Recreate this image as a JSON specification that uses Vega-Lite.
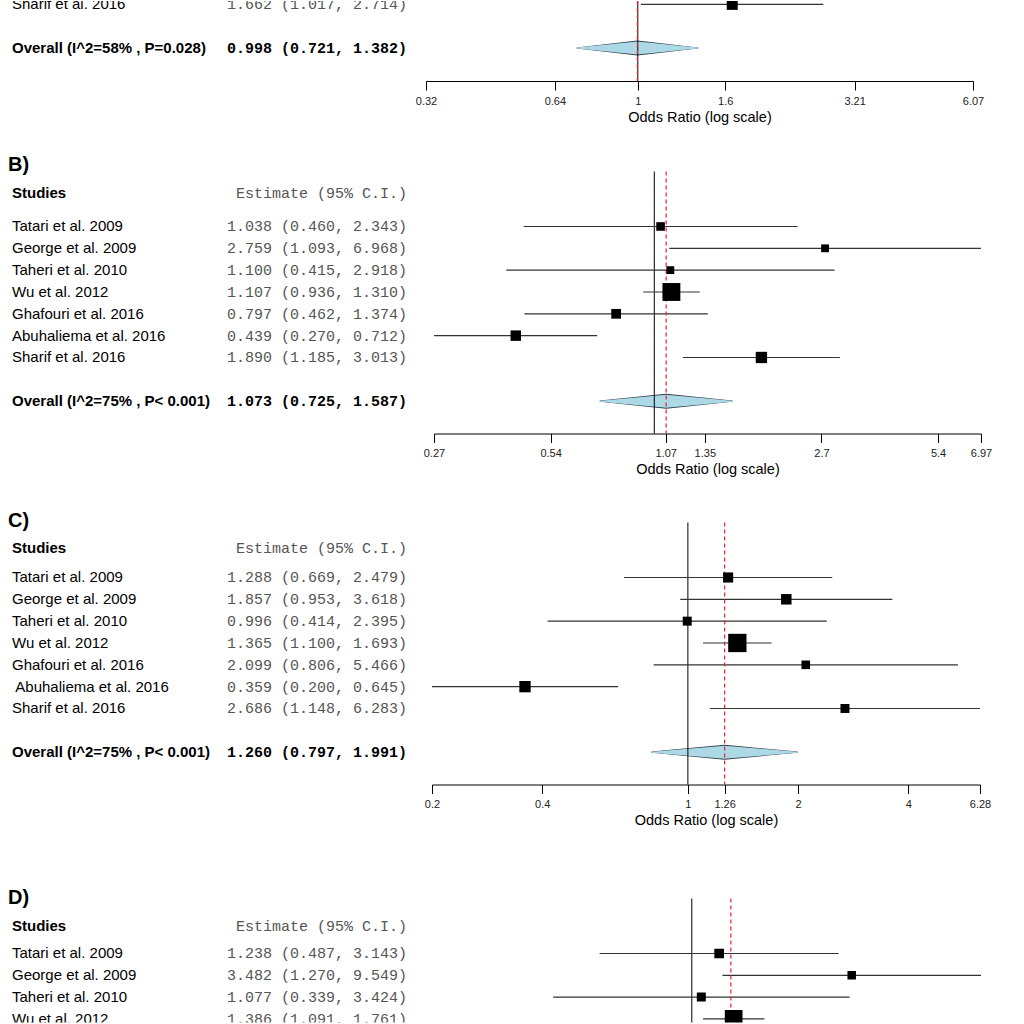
{
"$schema": "https://vega.github.io/schema/vega-lite/v6.json",
"padding": 0,
"background": "white",
"config": {
  "view": {"stroke": null},
  "axis": {"domainColor": "#000", "tickColor": "#000", "labelColor": "#222", "titleColor": "#000", "labelFont": "Liberation Sans", "titleFont": "Liberation Sans", "labelFontSize": 11, "titleFontSize": 14.5, "titleFontWeight": "normal", "tickSize": 9, "labelPadding": 5, "titlePadding": 4, "grid": false, "domainWidth": 1, "tickWidth": 1, "labelFlush": false, "labelOverlap": false},
  "title": {"anchor": "start", "font": "Liberation Sans", "fontSize": 20, "fontWeight": "bold", "color": "#000", "dx": 8}
},
"datasets": {
  "A": [
    {"study": "Sharif et al. 2016", "type": "study", "est": 1.662, "lo": 1.017, "hi": 2.714, "w": 14.2, "label": "1.662 (1.017, 2.714)"},
    {"study": "Overall (I^2=58% , P=0.028)", "type": "overall", "est": 0.998, "lo": 0.721, "hi": 1.382, "label": "0.998 (0.721, 1.382)"}
  ],
  "B": [
    {"study": "Studies", "type": "header", "label": "Estimate (95% C.I.)"},
    {"study": "Tatari et al. 2009", "type": "study", "est": 1.038, "lo": 0.460, "hi": 2.343, "w": 8.7, "label": "1.038 (0.460, 2.343)"},
    {"study": "George et al. 2009", "type": "study", "est": 2.759, "lo": 1.093, "hi": 6.968, "w": 7.2, "label": "2.759 (1.093, 6.968)"},
    {"study": "Taheri et al. 2010", "type": "study", "est": 1.100, "lo": 0.415, "hi": 2.918, "w": 7.2, "label": "1.100 (0.415, 2.918)"},
    {"study": "Wu et al. 2012", "type": "study", "est": 1.107, "lo": 0.936, "hi": 1.310, "w": 37.6, "label": "1.107 (0.936, 1.310)"},
    {"study": "Ghafouri et al. 2016", "type": "study", "est": 0.797, "lo": 0.462, "hi": 1.374, "w": 11.1, "label": "0.797 (0.462, 1.374)"},
    {"study": "Abuhaliema et al. 2016", "type": "study", "est": 0.439, "lo": 0.270, "hi": 0.712, "w": 12.9, "label": "0.439 (0.270, 0.712)"},
    {"study": "Sharif et al. 2016", "type": "study", "est": 1.890, "lo": 1.185, "hi": 3.013, "w": 15.1, "label": "1.890 (1.185, 3.013)"},
    {"study": "Overall (I^2=75% , P< 0.001)", "type": "overall", "est": 1.073, "lo": 0.725, "hi": 1.587, "label": "1.073 (0.725, 1.587)"}
  ],
  "C": [
    {"study": "Studies", "type": "header", "label": "Estimate (95% C.I.)"},
    {"study": "Tatari et al. 2009", "type": "study", "est": 1.288, "lo": 0.669, "hi": 2.479, "w": 12.0, "label": "1.288 (0.669, 2.479)"},
    {"study": "George et al. 2009", "type": "study", "est": 1.857, "lo": 0.953, "hi": 3.618, "w": 12.9, "label": "1.857 (0.953, 3.618)"},
    {"study": "Taheri et al. 2010", "type": "study", "est": 0.996, "lo": 0.414, "hi": 2.395, "w": 9.5, "label": "0.996 (0.414, 2.395)"},
    {"study": "Wu et al. 2012", "type": "study", "est": 1.365, "lo": 1.100, "hi": 1.693, "w": 39.4, "label": "1.365 (1.100, 1.693)"},
    {"study": "Ghafouri et al. 2016", "type": "study", "est": 2.099, "lo": 0.806, "hi": 5.466, "w": 8.7, "label": "2.099 (0.806, 5.466)"},
    {"study": "\u200b Abuhaliema et al. 2016", "type": "study", "est": 0.359, "lo": 0.200, "hi": 0.645, "w": 15.1, "label": "0.359 (0.200, 0.645)"},
    {"study": "Sharif et al. 2016", "type": "study", "est": 2.686, "lo": 1.148, "hi": 6.283, "w": 9.5, "label": "2.686 (1.148, 6.283)"},
    {"study": "Overall (I^2=75% , P< 0.001)", "type": "overall", "est": 1.260, "lo": 0.797, "hi": 1.991, "label": "1.260 (0.797, 1.991)"}
  ],
  "D": [
    {"study": "Studies", "type": "header", "label": "Estimate (95% C.I.)"},
    {"study": "Tatari et al. 2009", "type": "study", "est": 1.238, "lo": 0.487, "hi": 3.143, "w": 11.1, "label": "1.238 (0.487, 3.143)"},
    {"study": "George et al. 2009", "type": "study", "est": 3.482, "lo": 1.270, "hi": 9.549, "w": 8.5, "label": "3.482 (1.270, 9.549)"},
    {"study": "Taheri et al. 2010", "type": "study", "est": 1.077, "lo": 0.339, "hi": 3.424, "w": 9.5, "label": "1.077 (0.339, 3.424)"},
    {"study": "Wu et al. 2012", "type": "study", "est": 1.386, "lo": 1.091, "hi": 1.761, "w": 36.8, "label": "1.386 (1.091, 1.761)"},
    {"study": "Overall", "type": "overall", "est": 1.356}
  ]
},
"spacing": 60.5,
"vconcat": [
{
"spacing": 34.5,
"vconcat": [
{
"spacing": 30.5,
"vconcat": [
{
  "spacing": 19, "bounds": "flush",
  "hconcat": [
    {
      "width": 407, "height": 80,
      "data": {"name": "A"},
      "encoding": {"y": {"field": "study", "type": "nominal", "scale": {"type": "point", "domain": ["Sharif et al. 2016", "g1", "Overall (I^2=58% , P=0.028)"], "padding": 0.835, "align": 0.093}, "axis": null}},
      "layer": [
        {"transform": [{"filter": "datum.type == 'study'"}], "mark": {"type": "text", "clip": true, "align": "left", "baseline": "middle", "dx": 12, "font": "Liberation Sans", "fontSize": 15, "color": "#000"}, "encoding": {"x": {"datum": 0, "type": "quantitative", "scale": {"domain": [0, 1]}, "axis": null}, "text": {"field": "study"}}},
        {"transform": [{"filter": "datum.type == 'study'"}], "mark": {"type": "text", "clip": true, "align": "right", "baseline": "middle", "font": "Liberation Mono", "fontSize": 15, "color": "#555"}, "encoding": {"x": {"datum": 1, "type": "quantitative", "scale": {"domain": [0, 1]}, "axis": null}, "text": {"field": "label"}}},
        {"transform": [{"filter": "datum.type == 'overall'"}], "mark": {"type": "text", "clip": true, "align": "left", "baseline": "middle", "dx": 12, "font": "Liberation Sans", "fontSize": 15, "fontWeight": "bold", "color": "#000"}, "encoding": {"x": {"datum": 0, "type": "quantitative", "scale": {"domain": [0, 1]}, "axis": null}, "text": {"field": "study"}}},
        {"transform": [{"filter": "datum.type == 'overall'"}], "mark": {"type": "text", "clip": true, "align": "right", "baseline": "middle", "font": "Liberation Mono", "fontSize": 15, "fontWeight": "bold", "color": "#000"}, "encoding": {"x": {"datum": 1, "type": "quantitative", "scale": {"domain": [0, 1]}, "axis": null}, "text": {"field": "label"}}}
      ]
    },
    {
      "width": 547, "height": 80,
      "data": {"name": "A"},
      "layer": [
        {"transform": [{"filter": "datum.type == 'overall'"}, {"fold": ["lo", "est", "hi"], "as": ["key", "value"]}, {"window": [{"op": "row_number", "as": "k"}], "sort": [{"field": "value"}]}],
         "mark": {"type": "trail", "clip": true, "color": "#2b3a4a"},
         "encoding": {"x": {"field": "value", "type": "quantitative", "scale": {"type": "log", "domain": [0.32, 6.07], "nice": false, "zero": false}, "axis": {"values": [0.32, 0.64, 1, 1.6, 3.21, 6.07], "format": "~g", "title": "Odds Ratio (log scale)"}},
           "y": {"field": "study", "type": "nominal", "scale": {"type": "point", "domain": ["Sharif et al. 2016", "g1", "Overall (I^2=58% , P=0.028)"], "padding": 0.835, "align": 0.093}, "axis": null},
           "order": {"field": "k", "type": "quantitative"},
           "size": {"field": "k", "type": "quantitative", "scale": {"type": "threshold", "domain": [1.5, 2.5], "range": [1.2, 15, 1.2]}, "legend": null}}},
        {"transform": [{"filter": "datum.type == 'overall'"}, {"fold": ["lo", "est", "hi"], "as": ["key", "value"]}, {"window": [{"op": "row_number", "as": "k"}], "sort": [{"field": "value"}]}],
         "mark": {"type": "trail", "clip": true, "color": "#ADD8E6"},
         "encoding": {"x": {"field": "value", "type": "quantitative", "scale": {"type": "log", "domain": [0.32, 6.07], "nice": false, "zero": false}, "axis": {"values": [0.32, 0.64, 1, 1.6, 3.21, 6.07], "format": "~g", "title": "Odds Ratio (log scale)"}},
           "y": {"field": "study", "type": "nominal", "scale": {"type": "point", "domain": ["Sharif et al. 2016", "g1", "Overall (I^2=58% , P=0.028)"], "padding": 0.835, "align": 0.093}, "axis": null},
           "order": {"field": "k", "type": "quantitative"},
           "size": {"field": "k", "type": "quantitative", "scale": {"type": "threshold", "domain": [1.5, 2.5], "range": [0, 13, 0]}, "legend": null}}},
        {"transform": [{"filter": "datum.type == 'overall'"}],
         "mark": {"type": "rule", "color": "#000", "strokeWidth": 1},
         "encoding": {"x": {"datum": 1, "type": "quantitative", "scale": {"type": "log", "domain": [0.32, 6.07], "nice": false, "zero": false}, "axis": {"values": [0.32, 0.64, 1, 1.6, 3.21, 6.07], "format": "~g", "title": "Odds Ratio (log scale)"}}}},
        {"transform": [{"filter": "datum.type == 'study'"}],
         "mark": {"type": "rule", "clip": true, "color": "#333", "strokeWidth": 1.2},
         "encoding": {"x": {"field": "lo", "type": "quantitative", "scale": {"type": "log", "domain": [0.32, 6.07], "nice": false, "zero": false}, "axis": {"values": [0.32, 0.64, 1, 1.6, 3.21, 6.07], "format": "~g", "title": "Odds Ratio (log scale)"}}, "x2": {"field": "hi"},
           "y": {"field": "study", "type": "nominal", "scale": {"type": "point", "domain": ["Sharif et al. 2016", "g1", "Overall (I^2=58% , P=0.028)"], "padding": 0.835, "align": 0.093}, "axis": null}}},
        {"transform": [{"filter": "datum.type == 'overall'"}],
         "mark": {"type": "rule", "color": "#e0262c", "strokeWidth": 1.2, "strokeDash": [4, 3]},
         "encoding": {"x": {"field": "est", "type": "quantitative", "scale": {"type": "log", "domain": [0.32, 6.07], "nice": false, "zero": false}, "axis": {"values": [0.32, 0.64, 1, 1.6, 3.21, 6.07], "format": "~g", "title": "Odds Ratio (log scale)"}}}},
        {"transform": [{"filter": "datum.type == 'study'"}],
         "mark": {"type": "square", "clip": true, "filled": true, "color": "#000", "opacity": 1},
         "encoding": {"x": {"field": "est", "type": "quantitative", "scale": {"type": "log", "domain": [0.32, 6.07], "nice": false, "zero": false}, "axis": {"values": [0.32, 0.64, 1, 1.6, 3.21, 6.07], "format": "~g", "title": "Odds Ratio (log scale)"}},
           "y": {"field": "study", "type": "nominal", "scale": {"type": "point", "domain": ["Sharif et al. 2016", "g1", "Overall (I^2=58% , P=0.028)"], "padding": 0.835, "align": 0.093}, "axis": null},
           "size": {"field": "w", "type": "quantitative", "scale": {"domain": [0, 100], "range": [0, 850]}, "legend": null}}}
      ]
    }
  ]
},
{
  "title": {"text": "B)", "offset": -4},
  "spacing": 27, "bounds": "flush",
  "hconcat": [
    {
      "width": 407, "height": 262,
      "data": {"name": "B"},
      "encoding": {"y": {"field": "study", "type": "nominal", "scale": {"type": "point", "domain": ["Studies", "g0", "Tatari et al. 2009", "George et al. 2009", "Taheri et al. 2010", "Wu et al. 2012", "Ghafouri et al. 2016", "Abuhaliema et al. 2016", "Sharif et al. 2016", "g1", "Overall (I^2=75% , P< 0.001)"], "padding": 1.009, "align": 0.259}, "axis": null}},
      "layer": [
        {"transform": [{"filter": "datum.type == 'header'"}], "mark": {"type": "text", "align": "left", "baseline": "middle", "dx": 12, "dy": 10.3, "font": "Liberation Sans", "fontSize": 15, "fontWeight": "bold", "color": "#000"}, "encoding": {"x": {"datum": 0, "type": "quantitative", "scale": {"domain": [0, 1]}, "axis": null}, "text": {"field": "study"}}},
        {"transform": [{"filter": "datum.type == 'header'"}], "mark": {"type": "text", "align": "right", "baseline": "middle", "dy": 10.3, "font": "Liberation Mono", "fontSize": 15, "color": "#555"}, "encoding": {"x": {"datum": 1, "type": "quantitative", "scale": {"domain": [0, 1]}, "axis": null}, "text": {"field": "label"}}},
        {"transform": [{"filter": "datum.type == 'study'"}], "mark": {"type": "text", "align": "left", "baseline": "middle", "dx": 12, "font": "Liberation Sans", "fontSize": 15, "color": "#000"}, "encoding": {"x": {"datum": 0, "type": "quantitative", "scale": {"domain": [0, 1]}, "axis": null}, "text": {"field": "study"}}},
        {"transform": [{"filter": "datum.type == 'study'"}], "mark": {"type": "text", "align": "right", "baseline": "middle", "font": "Liberation Mono", "fontSize": 15, "color": "#555"}, "encoding": {"x": {"datum": 1, "type": "quantitative", "scale": {"domain": [0, 1]}, "axis": null}, "text": {"field": "label"}}},
        {"transform": [{"filter": "datum.type == 'overall'"}], "mark": {"type": "text", "align": "left", "baseline": "middle", "dx": 12, "font": "Liberation Sans", "fontSize": 15, "fontWeight": "bold", "color": "#000"}, "encoding": {"x": {"datum": 0, "type": "quantitative", "scale": {"domain": [0, 1]}, "axis": null}, "text": {"field": "study"}}},
        {"transform": [{"filter": "datum.type == 'overall'"}], "mark": {"type": "text", "align": "right", "baseline": "middle", "font": "Liberation Mono", "fontSize": 15, "fontWeight": "bold", "color": "#000"}, "encoding": {"x": {"datum": 1, "type": "quantitative", "scale": {"domain": [0, 1]}, "axis": null}, "text": {"field": "label"}}}
      ]
    },
    {
      "width": 547, "height": 262,
      "data": {"name": "B"},
      "layer": [
        {"transform": [{"filter": "datum.type == 'overall'"}, {"fold": ["lo", "est", "hi"], "as": ["key", "value"]}, {"window": [{"op": "row_number", "as": "k"}], "sort": [{"field": "value"}]}],
         "mark": {"type": "trail", "color": "#2b3a4a"},
         "encoding": {"x": {"field": "value", "type": "quantitative", "scale": {"type": "log", "domain": [0.27, 6.97], "nice": false, "zero": false}, "axis": {"values": [0.27, 0.54, 1.07, 1.35, 2.7, 5.4, 6.97], "format": "~g", "title": "Odds Ratio (log scale)"}},
           "y": {"field": "study", "type": "nominal", "scale": {"type": "point", "domain": ["Studies", "g0", "Tatari et al. 2009", "George et al. 2009", "Taheri et al. 2010", "Wu et al. 2012", "Ghafouri et al. 2016", "Abuhaliema et al. 2016", "Sharif et al. 2016", "g1", "Overall (I^2=75% , P< 0.001)"], "padding": 1.009, "align": 0.259}, "axis": null},
           "order": {"field": "k", "type": "quantitative"},
           "size": {"field": "k", "type": "quantitative", "scale": {"type": "threshold", "domain": [1.5, 2.5], "range": [1.2, 15, 1.2]}, "legend": null}}},
        {"transform": [{"filter": "datum.type == 'overall'"}, {"fold": ["lo", "est", "hi"], "as": ["key", "value"]}, {"window": [{"op": "row_number", "as": "k"}], "sort": [{"field": "value"}]}],
         "mark": {"type": "trail", "color": "#ADD8E6"},
         "encoding": {"x": {"field": "value", "type": "quantitative", "scale": {"type": "log", "domain": [0.27, 6.97], "nice": false, "zero": false}, "axis": {"values": [0.27, 0.54, 1.07, 1.35, 2.7, 5.4, 6.97], "format": "~g", "title": "Odds Ratio (log scale)"}},
           "y": {"field": "study", "type": "nominal", "scale": {"type": "point", "domain": ["Studies", "g0", "Tatari et al. 2009", "George et al. 2009", "Taheri et al. 2010", "Wu et al. 2012", "Ghafouri et al. 2016", "Abuhaliema et al. 2016", "Sharif et al. 2016", "g1", "Overall (I^2=75% , P< 0.001)"], "padding": 1.009, "align": 0.259}, "axis": null},
           "order": {"field": "k", "type": "quantitative"},
           "size": {"field": "k", "type": "quantitative", "scale": {"type": "threshold", "domain": [1.5, 2.5], "range": [0, 13, 0]}, "legend": null}}},
        {"transform": [{"filter": "datum.type == 'overall'"}],
         "mark": {"type": "rule", "color": "#000", "strokeWidth": 1},
         "encoding": {"x": {"datum": 1, "type": "quantitative", "scale": {"type": "log", "domain": [0.27, 6.97], "nice": false, "zero": false}, "axis": {"values": [0.27, 0.54, 1.07, 1.35, 2.7, 5.4, 6.97], "format": "~g", "title": "Odds Ratio (log scale)"}}}},
        {"transform": [{"filter": "datum.type == 'study'"}],
         "mark": {"type": "rule", "color": "#333", "strokeWidth": 1.2},
         "encoding": {"x": {"field": "lo", "type": "quantitative", "scale": {"type": "log", "domain": [0.27, 6.97], "nice": false, "zero": false}, "axis": {"values": [0.27, 0.54, 1.07, 1.35, 2.7, 5.4, 6.97], "format": "~g", "title": "Odds Ratio (log scale)"}}, "x2": {"field": "hi"},
           "y": {"field": "study", "type": "nominal", "scale": {"type": "point", "domain": ["Studies", "g0", "Tatari et al. 2009", "George et al. 2009", "Taheri et al. 2010", "Wu et al. 2012", "Ghafouri et al. 2016", "Abuhaliema et al. 2016", "Sharif et al. 2016", "g1", "Overall (I^2=75% , P< 0.001)"], "padding": 1.009, "align": 0.259}, "axis": null}}},
        {"transform": [{"filter": "datum.type == 'overall'"}],
         "mark": {"type": "rule", "color": "#e0262c", "strokeWidth": 1.2, "strokeDash": [4, 3]},
         "encoding": {"x": {"field": "est", "type": "quantitative", "scale": {"type": "log", "domain": [0.27, 6.97], "nice": false, "zero": false}, "axis": {"values": [0.27, 0.54, 1.07, 1.35, 2.7, 5.4, 6.97], "format": "~g", "title": "Odds Ratio (log scale)"}}}},
        {"transform": [{"filter": "datum.type == 'study'"}],
         "mark": {"type": "square", "filled": true, "color": "#000", "opacity": 1},
         "encoding": {"x": {"field": "est", "type": "quantitative", "scale": {"type": "log", "domain": [0.27, 6.97], "nice": false, "zero": false}, "axis": {"values": [0.27, 0.54, 1.07, 1.35, 2.7, 5.4, 6.97], "format": "~g", "title": "Odds Ratio (log scale)"}},
           "y": {"field": "study", "type": "nominal", "scale": {"type": "point", "domain": ["Studies", "g0", "Tatari et al. 2009", "George et al. 2009", "Taheri et al. 2010", "Wu et al. 2012", "Ghafouri et al. 2016", "Abuhaliema et al. 2016", "Sharif et al. 2016", "g1", "Overall (I^2=75% , P< 0.001)"], "padding": 1.009, "align": 0.259}, "axis": null},
           "size": {"field": "w", "type": "quantitative", "scale": {"domain": [0, 100], "range": [0, 850]}, "legend": null}}}
      ]
    }
  ]
}
]
},
{
  "title": {"text": "C)", "offset": -9.5},
  "spacing": 25, "bounds": "flush",
  "hconcat": [
    {
      "width": 407, "height": 262,
      "data": {"name": "C"},
      "encoding": {"y": {"field": "study", "type": "nominal", "scale": {"type": "point", "domain": ["Studies", "g0", "Tatari et al. 2009", "George et al. 2009", "Taheri et al. 2010", "Wu et al. 2012", "Ghafouri et al. 2016", "\u200b Abuhaliema et al. 2016", "Sharif et al. 2016", "g1", "Overall (I^2=75% , P< 0.001)"], "padding": 1.009, "align": 0.259}, "axis": null}},
      "layer": [
        {"transform": [{"filter": "datum.type == 'header'"}], "mark": {"type": "text", "align": "left", "baseline": "middle", "dx": 12, "dy": 14.5, "font": "Liberation Sans", "fontSize": 15, "fontWeight": "bold", "color": "#000"}, "encoding": {"x": {"datum": 0, "type": "quantitative", "scale": {"domain": [0, 1]}, "axis": null}, "text": {"field": "study"}}},
        {"transform": [{"filter": "datum.type == 'header'"}], "mark": {"type": "text", "align": "right", "baseline": "middle", "dy": 14.5, "font": "Liberation Mono", "fontSize": 15, "color": "#555"}, "encoding": {"x": {"datum": 1, "type": "quantitative", "scale": {"domain": [0, 1]}, "axis": null}, "text": {"field": "label"}}},
        {"transform": [{"filter": "datum.type == 'study'"}], "mark": {"type": "text", "align": "left", "baseline": "middle", "dx": 12, "font": "Liberation Sans", "fontSize": 15, "color": "#000"}, "encoding": {"x": {"datum": 0, "type": "quantitative", "scale": {"domain": [0, 1]}, "axis": null}, "text": {"field": "study"}}},
        {"transform": [{"filter": "datum.type == 'study'"}], "mark": {"type": "text", "align": "right", "baseline": "middle", "font": "Liberation Mono", "fontSize": 15, "color": "#555"}, "encoding": {"x": {"datum": 1, "type": "quantitative", "scale": {"domain": [0, 1]}, "axis": null}, "text": {"field": "label"}}},
        {"transform": [{"filter": "datum.type == 'overall'"}], "mark": {"type": "text", "align": "left", "baseline": "middle", "dx": 12, "font": "Liberation Sans", "fontSize": 15, "fontWeight": "bold", "color": "#000"}, "encoding": {"x": {"datum": 0, "type": "quantitative", "scale": {"domain": [0, 1]}, "axis": null}, "text": {"field": "study"}}},
        {"transform": [{"filter": "datum.type == 'overall'"}], "mark": {"type": "text", "align": "right", "baseline": "middle", "font": "Liberation Mono", "fontSize": 15, "fontWeight": "bold", "color": "#000"}, "encoding": {"x": {"datum": 1, "type": "quantitative", "scale": {"domain": [0, 1]}, "axis": null}, "text": {"field": "label"}}}
      ]
    },
    {
      "width": 548, "height": 262,
      "data": {"name": "C"},
      "layer": [
        {"transform": [{"filter": "datum.type == 'overall'"}, {"fold": ["lo", "est", "hi"], "as": ["key", "value"]}, {"window": [{"op": "row_number", "as": "k"}], "sort": [{"field": "value"}]}],
         "mark": {"type": "trail", "color": "#2b3a4a"},
         "encoding": {"x": {"field": "value", "type": "quantitative", "scale": {"type": "log", "domain": [0.2, 6.28], "nice": false, "zero": false}, "axis": {"values": [0.2, 0.4, 1, 1.26, 2, 4, 6.28], "format": "~g", "title": "Odds Ratio (log scale)"}},
           "y": {"field": "study", "type": "nominal", "scale": {"type": "point", "domain": ["Studies", "g0", "Tatari et al. 2009", "George et al. 2009", "Taheri et al. 2010", "Wu et al. 2012", "Ghafouri et al. 2016", "\u200b Abuhaliema et al. 2016", "Sharif et al. 2016", "g1", "Overall (I^2=75% , P< 0.001)"], "padding": 1.009, "align": 0.259}, "axis": null},
           "order": {"field": "k", "type": "quantitative"},
           "size": {"field": "k", "type": "quantitative", "scale": {"type": "threshold", "domain": [1.5, 2.5], "range": [1.2, 15, 1.2]}, "legend": null}}},
        {"transform": [{"filter": "datum.type == 'overall'"}, {"fold": ["lo", "est", "hi"], "as": ["key", "value"]}, {"window": [{"op": "row_number", "as": "k"}], "sort": [{"field": "value"}]}],
         "mark": {"type": "trail", "color": "#ADD8E6"},
         "encoding": {"x": {"field": "value", "type": "quantitative", "scale": {"type": "log", "domain": [0.2, 6.28], "nice": false, "zero": false}, "axis": {"values": [0.2, 0.4, 1, 1.26, 2, 4, 6.28], "format": "~g", "title": "Odds Ratio (log scale)"}},
           "y": {"field": "study", "type": "nominal", "scale": {"type": "point", "domain": ["Studies", "g0", "Tatari et al. 2009", "George et al. 2009", "Taheri et al. 2010", "Wu et al. 2012", "Ghafouri et al. 2016", "\u200b Abuhaliema et al. 2016", "Sharif et al. 2016", "g1", "Overall (I^2=75% , P< 0.001)"], "padding": 1.009, "align": 0.259}, "axis": null},
           "order": {"field": "k", "type": "quantitative"},
           "size": {"field": "k", "type": "quantitative", "scale": {"type": "threshold", "domain": [1.5, 2.5], "range": [0, 13, 0]}, "legend": null}}},
        {"transform": [{"filter": "datum.type == 'overall'"}],
         "mark": {"type": "rule", "color": "#000", "strokeWidth": 1},
         "encoding": {"x": {"datum": 1, "type": "quantitative", "scale": {"type": "log", "domain": [0.2, 6.28], "nice": false, "zero": false}, "axis": {"values": [0.2, 0.4, 1, 1.26, 2, 4, 6.28], "format": "~g", "title": "Odds Ratio (log scale)"}}}},
        {"transform": [{"filter": "datum.type == 'study'"}],
         "mark": {"type": "rule", "color": "#333", "strokeWidth": 1.2},
         "encoding": {"x": {"field": "lo", "type": "quantitative", "scale": {"type": "log", "domain": [0.2, 6.28], "nice": false, "zero": false}, "axis": {"values": [0.2, 0.4, 1, 1.26, 2, 4, 6.28], "format": "~g", "title": "Odds Ratio (log scale)"}}, "x2": {"field": "hi"},
           "y": {"field": "study", "type": "nominal", "scale": {"type": "point", "domain": ["Studies", "g0", "Tatari et al. 2009", "George et al. 2009", "Taheri et al. 2010", "Wu et al. 2012", "Ghafouri et al. 2016", "\u200b Abuhaliema et al. 2016", "Sharif et al. 2016", "g1", "Overall (I^2=75% , P< 0.001)"], "padding": 1.009, "align": 0.259}, "axis": null}}},
        {"transform": [{"filter": "datum.type == 'overall'"}],
         "mark": {"type": "rule", "color": "#e0262c", "strokeWidth": 1.2, "strokeDash": [4, 3]},
         "encoding": {"x": {"field": "est", "type": "quantitative", "scale": {"type": "log", "domain": [0.2, 6.28], "nice": false, "zero": false}, "axis": {"values": [0.2, 0.4, 1, 1.26, 2, 4, 6.28], "format": "~g", "title": "Odds Ratio (log scale)"}}}},
        {"transform": [{"filter": "datum.type == 'study'"}],
         "mark": {"type": "square", "filled": true, "color": "#000", "opacity": 1},
         "encoding": {"x": {"field": "est", "type": "quantitative", "scale": {"type": "log", "domain": [0.2, 6.28], "nice": false, "zero": false}, "axis": {"values": [0.2, 0.4, 1, 1.26, 2, 4, 6.28], "format": "~g", "title": "Odds Ratio (log scale)"}},
           "y": {"field": "study", "type": "nominal", "scale": {"type": "point", "domain": ["Studies", "g0", "Tatari et al. 2009", "George et al. 2009", "Taheri et al. 2010", "Wu et al. 2012", "Ghafouri et al. 2016", "\u200b Abuhaliema et al. 2016", "Sharif et al. 2016", "g1", "Overall (I^2=75% , P< 0.001)"], "padding": 1.009, "align": 0.259}, "axis": null},
           "size": {"field": "w", "type": "quantitative", "scale": {"domain": [0, 100], "range": [0, 850]}, "legend": null}}}
      ]
    }
  ]
}
]
},
{
  "title": {"text": "D)", "offset": -10},
  "spacing": 25, "bounds": "flush",
  "hconcat": [
    {
      "width": 407, "height": 124,
      "data": {"name": "D"},
      "encoding": {"y": {"field": "study", "type": "nominal", "scale": {"type": "point", "domain": ["Studies", "g0", "Tatari et al. 2009", "George et al. 2009", "Taheri et al. 2010", "Wu et al. 2012"], "padding": 0.344, "align": 0.76}, "axis": null}},
      "layer": [
        {"transform": [{"filter": "datum.type == 'header'"}], "mark": {"type": "text", "clip": true, "align": "left", "baseline": "middle", "dx": 12, "dy": 16.3, "font": "Liberation Sans", "fontSize": 15, "fontWeight": "bold", "color": "#000"}, "encoding": {"x": {"datum": 0, "type": "quantitative", "scale": {"domain": [0, 1]}, "axis": null}, "text": {"field": "study"}}},
        {"transform": [{"filter": "datum.type == 'header'"}], "mark": {"type": "text", "clip": true, "align": "right", "baseline": "middle", "dy": 16.3, "font": "Liberation Mono", "fontSize": 15, "color": "#555"}, "encoding": {"x": {"datum": 1, "type": "quantitative", "scale": {"domain": [0, 1]}, "axis": null}, "text": {"field": "label"}}},
        {"transform": [{"filter": "datum.type == 'study'"}], "mark": {"type": "text", "clip": true, "align": "left", "baseline": "middle", "dx": 12, "font": "Liberation Sans", "fontSize": 15, "color": "#000"}, "encoding": {"x": {"datum": 0, "type": "quantitative", "scale": {"domain": [0, 1]}, "axis": null}, "text": {"field": "study"}}},
        {"transform": [{"filter": "datum.type == 'study'"}], "mark": {"type": "text", "clip": true, "align": "right", "baseline": "middle", "font": "Liberation Mono", "fontSize": 15, "color": "#555"}, "encoding": {"x": {"datum": 1, "type": "quantitative", "scale": {"domain": [0, 1]}, "axis": null}, "text": {"field": "label"}}}
      ]
    },
    {
      "width": 549, "height": 124,
      "data": {"name": "D"},
      "layer": [
        {"transform": [{"filter": "datum.type == 'overall'"}],
         "mark": {"type": "rule", "color": "#000", "strokeWidth": 1},
         "encoding": {"x": {"datum": 1, "type": "quantitative", "scale": {"type": "log", "domain": [0.1317, 9.549], "nice": false, "zero": false}, "axis": null}}},
        {"transform": [{"filter": "datum.type == 'study'"}],
         "mark": {"type": "rule", "clip": true, "color": "#333", "strokeWidth": 1.2},
         "encoding": {"x": {"field": "lo", "type": "quantitative", "scale": {"type": "log", "domain": [0.1317, 9.549], "nice": false, "zero": false}, "axis": null}, "x2": {"field": "hi"},
           "y": {"field": "study", "type": "nominal", "scale": {"type": "point", "domain": ["Studies", "g0", "Tatari et al. 2009", "George et al. 2009", "Taheri et al. 2010", "Wu et al. 2012"], "padding": 0.344, "align": 0.76}, "axis": null}}},
        {"transform": [{"filter": "datum.type == 'overall'"}],
         "mark": {"type": "rule", "color": "#e0262c", "strokeWidth": 1.2, "strokeDash": [4, 3]},
         "encoding": {"x": {"field": "est", "type": "quantitative", "scale": {"type": "log", "domain": [0.1317, 9.549], "nice": false, "zero": false}, "axis": null}}},
        {"transform": [{"filter": "datum.type == 'study'"}],
         "mark": {"type": "square", "clip": true, "filled": true, "color": "#000", "opacity": 1},
         "encoding": {"x": {"field": "est", "type": "quantitative", "scale": {"type": "log", "domain": [0.1317, 9.549], "nice": false, "zero": false}, "axis": null},
           "y": {"field": "study", "type": "nominal", "scale": {"type": "point", "domain": ["Studies", "g0", "Tatari et al. 2009", "George et al. 2009", "Taheri et al. 2010", "Wu et al. 2012"], "padding": 0.344, "align": 0.76}, "axis": null},
           "size": {"field": "w", "type": "quantitative", "scale": {"domain": [0, 100], "range": [0, 850]}, "legend": null}}}
      ]
    }
  ]
}
]
}
